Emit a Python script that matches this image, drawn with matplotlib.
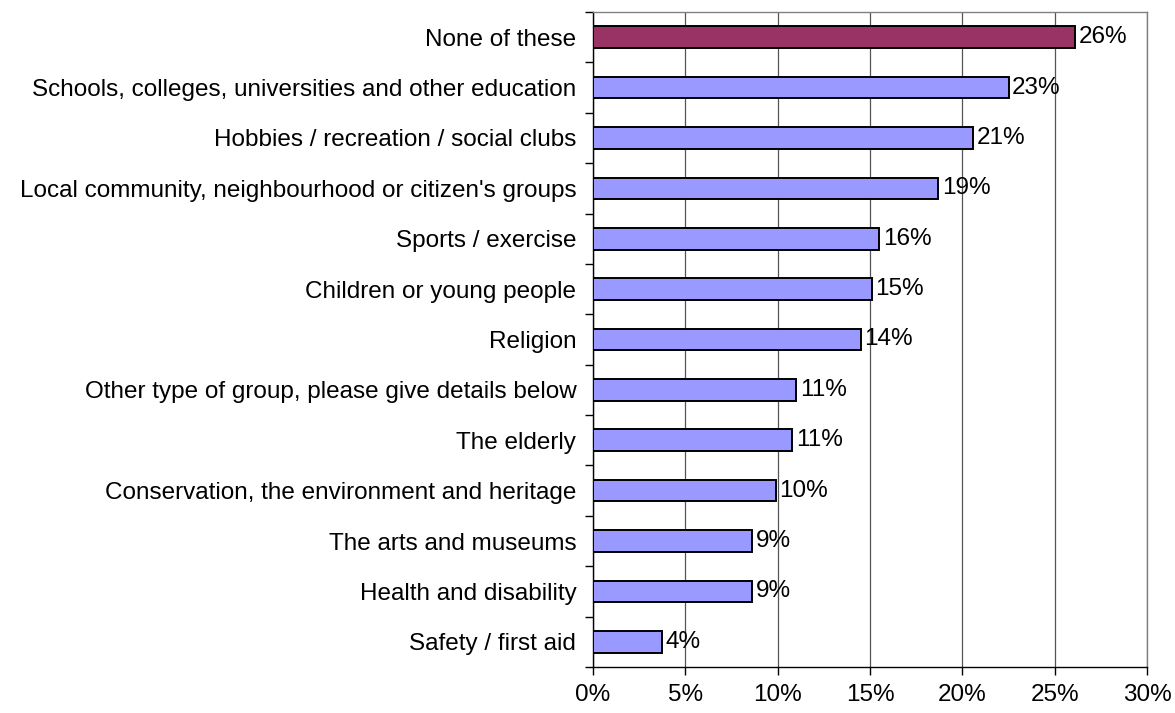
import matplotlib
matplotlib.use("Agg")
import matplotlib.pyplot as plt
from matplotlib.ticker import MultipleLocator, FuncFormatter

categories = [
    "None of these",
    "Schools, colleges, universities and other education",
    "Hobbies / recreation / social clubs",
    "Local community, neighbourhood or citizen's groups",
    "Sports / exercise",
    "Children or young people",
    "Religion",
    "Other type of group, please give details below",
    "The elderly",
    "Conservation, the environment and heritage",
    "The arts and museums",
    "Health and disability",
    "Safety / first aid",
]
values = [26.1, 22.5, 20.6, 18.7, 15.5, 15.1, 14.5, 11.0, 10.8, 9.9, 8.6, 8.6, 3.75]
labels = ["26%", "23%", "21%", "19%", "16%", "15%", "14%", "11%", "11%", "10%", "9%", "9%", "4%"]
highlight_color = "#993366"
bar_color = "#9999FF"

plt.rcParams['font.family'] = ['Liberation Sans', 'DejaVu Sans']
FS = 17.5
fig = plt.figure(figsize=(11.75, 7.13), dpi=100)
ax = fig.add_axes([593/1175, 1-667/713, (1147-593)/1175, (667-12)/713])

n = len(categories)
ypos = list(range(n))
colors = [highlight_color] + [bar_color] * (n - 1)
ax.barh(ypos, values, height=0.43, color=colors, edgecolor="black", linewidth=1.4, zorder=3)
ax.set_ylim(n - 0.5, -0.5)
ax.set_xlim(0, 30)

for y, v, t in zip(ypos, values, labels):
    ax.text(v + 0.2, y, t, va="center", ha="left", fontsize=FS, zorder=4)

ax.xaxis.set_major_locator(MultipleLocator(5))
ax.xaxis.set_major_formatter(FuncFormatter(lambda x, p: f"{int(round(x))}%"))
ax.grid(axis="x", color="#555555", linewidth=0.9, zorder=0)

# category boundary ticks on y axis
ax.set_yticks([i - 0.5 for i in range(n + 1)], minor=False)
ax.set_yticklabels([])
ax.set_yticks(ypos, minor=True)
ax.set_yticklabels(categories, minor=True, fontsize=FS)
ax.tick_params(axis="y", which="minor", length=0, pad=12)
ax.tick_params(axis="y", which="major", length=6, width=1, color="black", direction="out")
ax.tick_params(axis="x", length=6, width=1, labelsize=FS, pad=6, direction="out")

for s in ["top", "right"]:
    ax.spines[s].set_color("#808080")
    ax.spines[s].set_linewidth(1)
for s in ["left", "bottom"]:
    ax.spines[s].set_color("black")
    ax.spines[s].set_linewidth(1)

fig.savefig("out.png", dpi=100)
